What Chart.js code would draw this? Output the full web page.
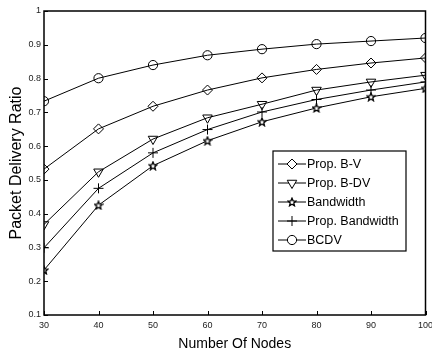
<!DOCTYPE html>
<html>
<head>
<meta charset="utf-8">
<script src="https://cdn.jsdelivr.net/npm/chart.js@4.4.1/dist/chart.umd.min.js"></script>
<style>
  html, body { margin: 0; padding: 0; background: #fff; }
  #wrap { width: 432px; height: 353px; }
</style>
</head>
<body>
<div id="wrap"><canvas id="chart"></canvas></div>
<script>
const nodes = [30, 40, 50, 60, 70, 80, 90, 100];
const propBV = [0.532, 0.651, 0.718, 0.766, 0.802, 0.827, 0.846, 0.861];
const propBDV = [0.368, 0.524, 0.621, 0.684, 0.724, 0.766, 0.790, 0.810];
const bandwidth = [0.233, 0.425, 0.542, 0.616, 0.672, 0.713, 0.746, 0.771];
const propBandwidth = [0.299, 0.475, 0.580, 0.649, 0.701, 0.738, 0.766, 0.790];
const bcdv = [0.733, 0.801, 0.840, 0.869, 0.887, 0.902, 0.911, 0.920];
const yTickLabels = ['0.1', '0.2', '0.3', '0.4', '0.5', '0.6', '0.7', '0.8', '0.9', '1'];
const xTickLabels = ['30', '40', '50', '60', '70', '80', '90', '100'];
const seriesNames = ['Prop. B-V', 'Prop. B-DV', 'Bandwidth', 'Prop. Bandwidth', 'BCDV'];

const SANS = '"Liberation Sans", Arial, sans-serif';

// little five-point star used as the Bandwidth marker
const makeStar = () => {
    const c = document.createElement('canvas');
    c.width = 10; c.height = 10;
    const g = c.getContext('2d');
    g.beginPath();
    for (let i = 0; i < 10; i++) {
        const r = i % 2 === 0 ? 4.2 : 1.9;
        const a = -Math.PI / 2 + i * Math.PI / 5;
        const px = 5 + r * Math.cos(a), py = 5.4 + r * Math.sin(a);
        if (i === 0) g.moveTo(px, py); else g.lineTo(px, py);
    }
    g.closePath();
    g.fillStyle = '#fff';
    g.fill();
    g.lineWidth = 1.3;
    g.strokeStyle = '#000';
    g.stroke();
    return c;
};
const star = makeStar();

const mk = (label, values, style, radius, rotation) => ({
    label: label,
    data: values.map((v, i) => ({ x: nodes[i], y: v })),
    borderColor: '#000',
    borderWidth: 1,
    backgroundColor: '#fff',
    pointStyle: style,
    pointRadius: radius,
    pointRotation: rotation || 0,
    pointBorderColor: '#000',
    pointBackgroundColor: 'rgba(255,255,255,0)',
    pointBorderWidth: 1,
    fill: false,
    tension: 0
});

const datasets = [
    mk(seriesNames[0], propBV, 'rectRot', 5),
    mk(seriesNames[1], propBDV, 'triangle', 5.5, 180),
    mk(seriesNames[2], bandwidth, star, 5),
    mk(seriesNames[3], propBandwidth, 'cross', 5),
    mk(seriesNames[4], bcdv, 'circle', 4.6)
];

const frame = {
    id: 'frame',
    afterDatasetsDraw(chart) {
        const { ctx, chartArea: a, scales } = chart;
        ctx.save();
        ctx.strokeStyle = '#000';
        ctx.lineWidth = 1;
        // inward ticks
        ctx.beginPath();
        scales.x.ticks.forEach(t => {
            const px = Math.round(scales.x.getPixelForValue(t.value)) + 0.5;
            ctx.moveTo(px, a.bottom);
            ctx.lineTo(px, a.bottom - 4);
        });
        scales.y.ticks.forEach(t => {
            const py = Math.round(scales.y.getPixelForValue(t.value)) + 0.5;
            ctx.moveTo(a.left, py);
            ctx.lineTo(a.left + 4, py);
        });
        ctx.stroke();
        ctx.lineWidth = 1.5;
        ctx.strokeRect(a.left, a.top, a.right - a.left, a.bottom - a.top);
        ctx.restore();
    }
};

const boxLegend = {
    id: 'boxLegend',
    afterDraw(chart, args, opts) {
        const { ctx } = chart;
        ctx.save();
        ctx.fillStyle = '#fff';
        ctx.fillRect(opts.x, opts.y, opts.w, opts.h);
        ctx.strokeStyle = '#000';
        ctx.lineWidth = 1.2;
        ctx.strokeRect(opts.x, opts.y, opts.w, opts.h);
        ctx.font = '12.5px ' + SANS;
        ctx.textBaseline = 'middle';
        chart.data.datasets.forEach((ds, i) => {
            const y = opts.y + opts.first + i * opts.step;
            ctx.strokeStyle = '#000';
            ctx.lineWidth = 1;
            ctx.beginPath();
            ctx.moveTo(opts.x + 5, y);
            ctx.lineTo(opts.x + 33, y);
            ctx.stroke();
            ctx.fillStyle = '#fff';
            Chart.helpers.drawPoint(ctx, {
                pointStyle: ds.pointStyle,
                radius: ds.pointRadius,
                rotation: ds.pointRotation,
                borderWidth: 1
            }, opts.x + 19, y);
            ctx.fillStyle = '#000';
            ctx.fillText(ds.label, opts.x + 34, y + 1);
        });
        ctx.restore();
    }
};

new Chart(document.getElementById('chart'), {
    type: 'line',
    data: { datasets: datasets },
    plugins: [frame, boxLegend],
    options: {
        responsive: true,
        maintainAspectRatio: false,
        animation: false,
        layout: { padding: { top: 11, right: 1, left: 0, bottom: 0 } },
        plugins: {
            legend: { display: false },
            tooltip: { enabled: false },
            boxLegend: { x: 273, y: 151, w: 133, h: 100, first: 13, step: 19 }
        },
        scales: {
            x: {
                type: 'linear',
                min: 30, max: 100,
                grid: { display: false, drawTicks: false },
                border: { display: false },
                ticks: {
                    stepSize: 10,
                    padding: 5,
                    color: '#222',
                    maxRotation: 0,
                    font: { family: SANS, size: 9 },
                    callback: (v) => xTickLabels[nodes.indexOf(v)]
                },
                title: {
                    display: true,
                    text: 'Number Of Nodes',
                    color: '#000',
                    padding: { top: 5, bottom: 0 },
                    font: { family: SANS, size: 14 }
                },
                afterFit: (s) => { s.height = 38; s.paddingLeft = 0; s.paddingRight = 0; }
            },
            y: {
                min: 0.1, max: 1,
                grid: { display: false, drawTicks: false },
                border: { display: false },
                ticks: {
                    stepSize: 0.1,
                    padding: 3,
                    color: '#222',
                    font: { family: SANS, size: 9 },
                    callback: (v, i) => yTickLabels[i]
                },
                title: {
                    display: true,
                    text: 'Packet Delivery Ratio',
                    color: '#000',
                    padding: { top: 7, bottom: 0 },
                    font: { family: SANS, size: 16 }
                },
                afterFit: (s) => { s.width = 44; s.paddingTop = 0; s.paddingBottom = 0; }
            }
        }
    }
});
</script>
</body>
</html>
